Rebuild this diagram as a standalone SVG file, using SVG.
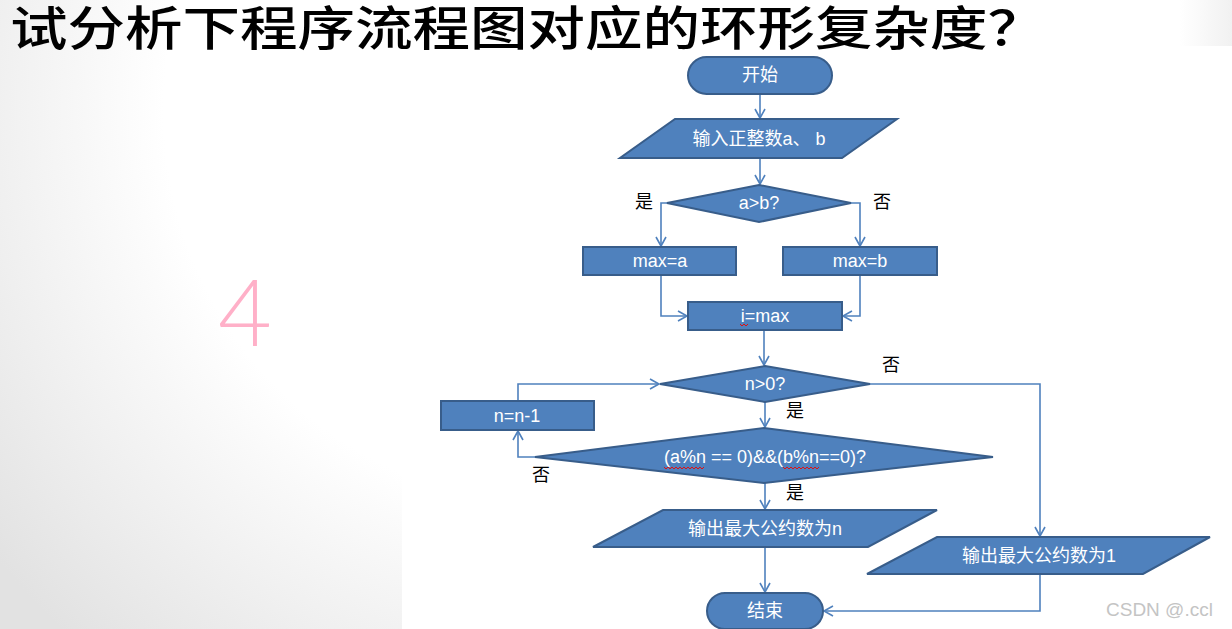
<svg xmlns="http://www.w3.org/2000/svg" width="1232" height="629" viewBox="0 0 1232 629">
<style>
.node{fill:#4F81BD;stroke:#385D8A;stroke-width:2}
.nt{fill:#ffffff;font-family:"Liberation Sans","Noto Sans CJK SC",sans-serif;font-size:18px;text-anchor:middle}
.lbl{fill:#000000;font-family:"Noto Sans CJK SC",sans-serif;font-size:18px;text-anchor:middle}
.con{fill:none;stroke:#4F81BD;stroke-width:1.6}
.sq{fill:none;stroke:#e01010;stroke-width:1}
</style>
<defs>
<radialGradient id="bg" gradientUnits="userSpaceOnUse" cx="560" cy="110" r="720">
<stop offset="0" stop-color="#ffffff"/>
<stop offset="0.55" stop-color="#ffffff"/>
<stop offset="1" stop-color="#e2e2e2"/>
</radialGradient>
<linearGradient id="tr" x1="0" y1="0" x2="1" y2="0">
<stop offset="0" stop-color="#ffffff"/>
<stop offset="1" stop-color="#f1f1f1"/>
</linearGradient>
<marker id="arr" markerWidth="12" markerHeight="12" refX="10" refY="6" orient="auto" markerUnits="userSpaceOnUse">
<path d="M1,1 L10,6 L1,11" fill="none" stroke="#4F81BD" stroke-width="1.6"/>
</marker>
</defs>
<rect x="0" y="0" width="1232" height="629" fill="url(#bg)"/>
<rect x="402" y="0" width="830" height="629" fill="#ffffff"/>
<rect x="1180" y="0" width="52" height="46" fill="url(#tr)"/>
<text x="10" y="45" font-family="Noto Sans CJK SC, sans-serif" font-weight="500" font-size="47" fill="#000000" textLength="1035" lengthAdjust="spacingAndGlyphs">试分析下程序流程图对应的环形复杂度？</text>
<text x="245" y="346" font-family="Lato, Liberation Sans, sans-serif" font-weight="300" font-size="93" fill="#FFB0C8" text-anchor="middle">4</text>
<g id="connectors">
<path class="con" d="M760,94 V118" marker-end="url(#arr)"/>
<path class="con" d="M760,158 V184" marker-end="url(#arr)"/>
<path class="con" d="M667,203 H661 V246" marker-end="url(#arr)"/>
<path class="con" d="M851,203 H860 V246" marker-end="url(#arr)"/>
<path class="con" d="M661,275 V316 H687" marker-end="url(#arr)"/>
<path class="con" d="M860,275 V316 H843" marker-end="url(#arr)"/>
<path class="con" d="M764,330 V365" marker-end="url(#arr)"/>
<path class="con" d="M765,402 V427" marker-end="url(#arr)"/>
<path class="con" d="M765,483 V509" marker-end="url(#arr)"/>
<path class="con" d="M535,457 H518 V431" marker-end="url(#arr)"/>
<path class="con" d="M518,401 V384 H659" marker-end="url(#arr)"/>
<path class="con" d="M870,384 H1040 V536" marker-end="url(#arr)"/>
<path class="con" d="M765,547 V592" marker-end="url(#arr)"/>
<path class="con" d="M1040,574 V611 H824" marker-end="url(#arr)"/>
</g>
<g id="start">
<rect class="node" x="688" y="57" width="144" height="37" rx="18.5"/>
<text class="nt" x="760" y="81">开始</text>
</g>
<g id="input">
<polygon class="node" points="675,119 897,119 842,158 620,158"/>
<text class="nt" x="759" y="145">输入正整数a、 b</text>
</g>
<g id="cond1">
<polygon class="node" points="759,185 851,203 759,222 667,203"/>
<text class="nt" x="759" y="209">a&gt;b?</text>
</g>
<g id="maxa">
<rect class="node" x="583" y="247" width="153" height="28"/>
<text class="nt" x="660" y="267">max=a</text>
</g>
<g id="maxb">
<rect class="node" x="783" y="247" width="154" height="28"/>
<text class="nt" x="860" y="267">max=b</text>
</g>
<g id="imax">
<rect class="node" x="688" y="302" width="154" height="28"/>
<text class="nt" x="765" y="322">i=max</text>
<path class="sq" d="M740,324 l2,2 l2,-2 l2,2 l2,-2"/>
</g>
<g id="cond2">
<polygon class="node" points="765,366 870,384 765,402 660,384"/>
<text class="nt" x="765" y="390">n&gt;0?</text>
</g>
<g id="dec">
<rect class="node" x="441" y="401" width="153" height="29"/>
<text class="nt" x="517" y="422">n=n-1</text>
</g>
<g id="cond3">
<polygon class="node" points="764,428 993,457 764,483 535,457"/>
<text class="nt" x="765" y="463">(a%n == 0)&amp;&amp;(b%n==0)?</text>
<path class="sq" d="M664,467 l2,2 l2,-2 l2,2 l2,-2 l2,2 l2,-2 l2,2 l2,-2 l2,2 l2,-2 l2,2 l2,-2 l2,2 l2,-2 l2,2 l2,-2 l2,2 l2,-2 l2,2 l2,-2"/>
<path class="sq" d="M783,467 l2,2 l2,-2 l2,2 l2,-2 l2,2 l2,-2 l2,2 l2,-2 l2,2 l2,-2 l2,2 l2,-2 l2,2 l2,-2 l2,2 l2,-2 l2,2 l2,-2"/>
</g>
<g id="outn">
<polygon class="node" points="663,510 937,510 868,547 593,547"/>
<text class="nt" x="765" y="535">输出最大公约数为n</text>
</g>
<g id="out1">
<polygon class="node" points="937,537 1210,537 1143,574 867,574"/>
<text class="nt" x="1039" y="562">输出最大公约数为1</text>
</g>
<g id="end">
<rect class="node" x="707" y="593" width="116" height="36" rx="18"/>
<text class="nt" x="765" y="617">结束</text>
</g>
<g id="labels">
<text class="lbl" x="644" y="208">是</text>
<text class="lbl" x="882" y="208">否</text>
<text class="lbl" x="891" y="371">否</text>
<text class="lbl" x="795" y="417">是</text>
<text class="lbl" x="541" y="481">否</text>
<text class="lbl" x="795" y="499">是</text>
</g>
<text x="1106" y="616" font-family="Liberation Sans, sans-serif" font-size="19" fill="#c4c4c4">CSDN @.ccl</text>
</svg>
